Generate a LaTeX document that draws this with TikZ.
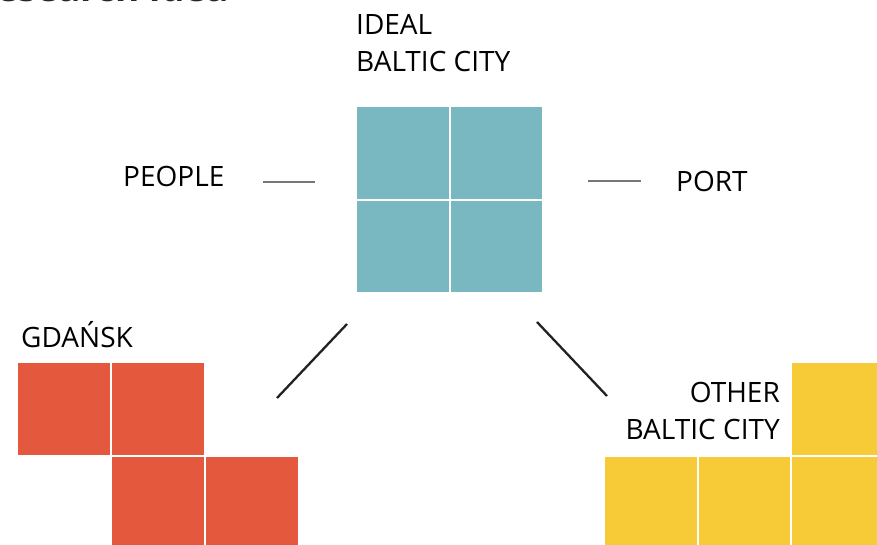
\documentclass[tikz,border=0pt]{standalone}
\usepackage{fontspec}
\setmainfont{Open Sans}
\definecolor{teal1}{HTML}{79B8C1}
\definecolor{red1}{HTML}{E4583E}
\definecolor{yel1}{HTML}{F7CB38}
\definecolor{gline}{HTML}{777777}
\definecolor{dline}{HTML}{222222}
\begin{document}
\begin{tikzpicture}[x=1pt,y=1pt,
  sq/.style={rectangle,anchor=north west,inner sep=0pt,minimum width=91.5pt,minimum height=91.5pt,draw=none},
  lbl/.style={inner sep=0pt,font=\fontsize{28}{37}\selectfont,text=black},
  gconn/.style={draw=gline,line width=2pt},
  dconn/.style={draw=dline,line width=2.3pt}]
\useasboundingbox (0,0) rectangle (877,544);
\begin{scope}
\clip (0,0) rectangle (877,544);
% title (cut off at top)
\node[inner sep=0pt,anchor=base east,font=\fontsize{37}{40}\selectfont\bfseries,text=black!85] (title) at (229,542) {Research idea};
% ideal city
\node[sq,fill=teal1] (t1) at (357,437) {};
\node[sq,fill=teal1] (t2) at (450.5,437) {};
\node[sq,fill=teal1] (t3) at (357,343.5) {};
\node[sq,fill=teal1] (t4) at (450.5,343.5) {};
% gdansk
\node[sq,fill=red1] (r1) at (18,181) {};
\node[sq,fill=red1] (r2) at (112,181) {};
\node[sq,fill=red1] (r3) at (112,87.5) {};
\node[sq,fill=red1] (r4) at (206,87.5) {};
% other city
\node[sq,fill=yel1] (y1) at (792,181) {};
\node[sq,fill=yel1] (y2) at (605,87) {};
\node[sq,fill=yel1] (y3) at (698.5,87) {};
\node[sq,fill=yel1] (y4) at (792,87) {};
\end{scope}
% labels
\node[lbl,anchor=base west,align=left] (ideal) at (356,472) {IDEAL\\BALTIC CITY};
\node[lbl,anchor=base west] (people) at (123,357) {PEOPLE};
\node[lbl,anchor=base west] (port) at (676,352) {PORT};
\node[lbl,anchor=base west] (gdansk) at (21,197) {GDAŃSK};
\node[lbl,anchor=base east,align=right] (other) at (780,105) {OTHER\\BALTIC CITY};
% connectors
\coordinate (pl1) at (263,362);
\coordinate (pl2) at (315,362);
\coordinate (po1) at (588,363);
\coordinate (po2) at (641,363);
\coordinate (ga) at (347,220);
\coordinate (gb) at (277,146);
\coordinate (oa) at (537,222);
\coordinate (ob) at (607,148);
\draw[gconn] (pl1) -- (pl2);
\draw[gconn] (po1) -- (po2);
\draw[dconn] (ga) -- (gb);
\draw[dconn] (oa) -- (ob);
\end{tikzpicture}
\end{document}
